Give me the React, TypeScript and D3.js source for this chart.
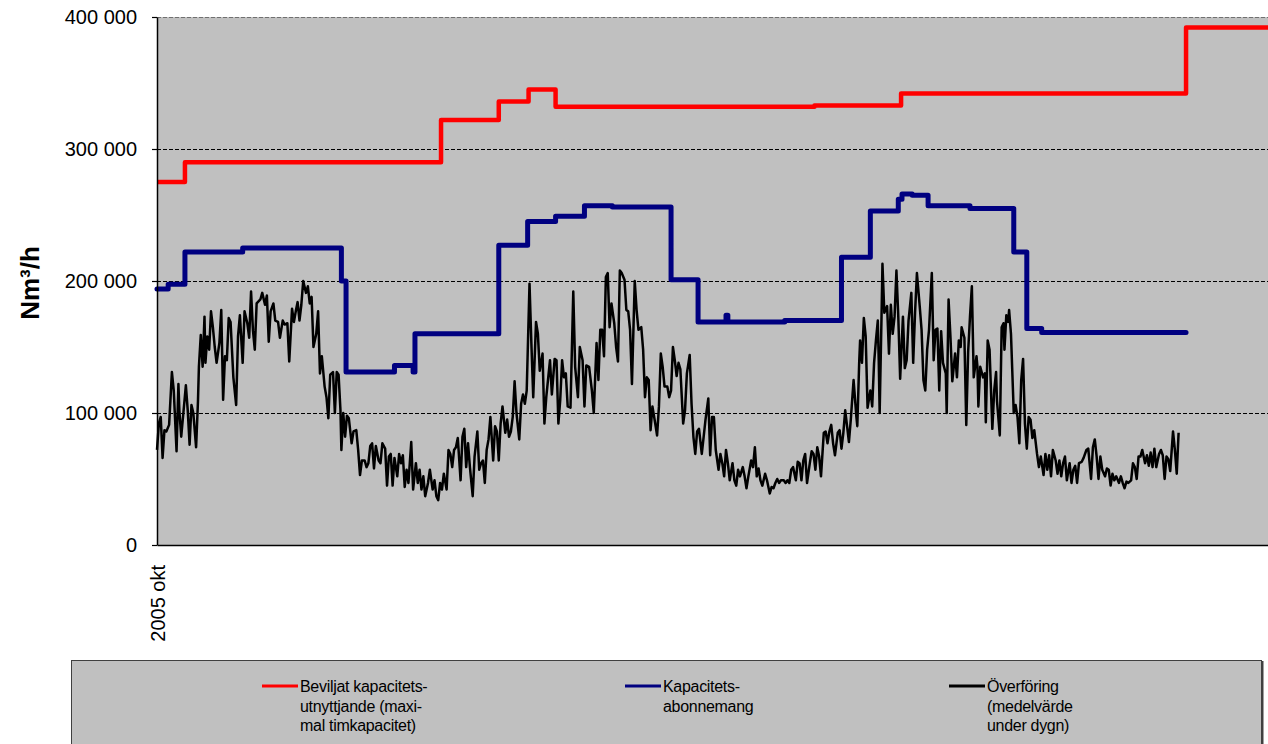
import { useEffect, useRef } from "react";
import * as d3 from "d3";

// dag räknad från 2005-10-01, värde i Nm³/h
const beviljat: [number, number][] = [
  [0, 275000], [30, 290000], [305, 322000], [367, 336000], [399, 345000],
  [428, 332000], [706, 333000], [799, 342000], [1105, 392000], [1193, 392000],
];

const abonnemang: [number, number][] = [
  [0, 194000], [12, 197500], [30, 222000], [92, 225000], [198, 200000],
  [203, 131000], [255, 136000], [275, 131000], [277, 160000], [367, 227000],
  [398, 245000], [428, 249000], [459, 257000], [489, 256000], [552, 201000],
  [581, 169000], [611, 174000], [613, 169000], [674, 170000], [735, 218000],
  [766, 253000], [796, 262000], [800, 266000], [811, 265000], [828, 257000],
  [873, 255000], [920, 222000], [934, 164000], [950, 161000], [1105, 161000],
];

// dygnsmedel, tusen Nm³/h
const overforing: [number, number][] = [
  [0,72],[2,92],[4,97],[6,66],[8,87],[10,86],[13,91],[16,131],[18,117],[21,71],[23,122],[24,102],[26,82],[31,121],[33,102],[35,76],[37,106],[39,100],[42,74],[44,109],[45,135],[47,159],[49,135],[51,173],[52,138],[54,158],[56,148],[58,177],[60,165],[62,150],[64,138],[67,153],[69,178],[71,110],[73,143],[75,140],[77,172],[79,169],[82,127],[85,106],[87,158],[89,174],[92,138],[94,177],[97,168],[99,157],[101,192],[103,163],[105,148],[107,183],[111,186],[113,191],[116,182],[118,189],[120,154],[122,177],[125,183],[127,170],[130,169],[132,157],[135,170],[137,167],[140,168],[142,139],[145,179],[147,169],[149,177],[151,184],[153,170],[155,182],[157,200],[160,191],[162,196],[164,183],[166,188],[168,150],[171,160],[173,177],[175,130],[177,143],[180,120],[182,112],[184,96],[186,129],[189,131],[191,100],[193,131],[195,129],[197,102],[198,72],[200,100],[202,82],[204,98],[206,96],[209,77],[211,86],[214,87],[216,72],[218,53],[220,64],[223,64],[225,59],[227,62],[229,75],[231,77],[233,58],[235,75],[238,64],[240,62],[242,77],[245,73],[247,45],[249,67],[251,69],[253,45],[255,66],[258,52],[260,69],[262,62],[264,68],[266,44],[268,57],[270,47],[273,78],[275,42],
  [278,62],[280,47],[282,57],[284,42],[286,52],[288,37],[291,47],[293,57],[296,42],[298,49],[300,37],[302,34],[304,47],[306,42],[308,54],[311,42],[313,72],[315,69],[317,59],[319,72],[321,74],[323,81],[326,49],[328,82],[330,88],[332,59],[334,77],[336,59],[339,37],[341,67],[344,86],[346,57],[348,62],[350,64],[352,47],[354,72],[356,80],[358,97],[361,64],[363,90],[365,86],[367,64],[369,92],[371,105],[374,85],[376,95],[378,82],[380,86],[382,97],[384,124],[386,100],[389,80],[391,107],[393,114],[395,107],[397,117],[400,198],[402,153],[404,112],[407,169],[409,160],[411,132],[414,145],[416,92],[418,112],[420,126],[422,140],[424,114],[427,141],[429,140],[431,92],[433,110],[435,140],[437,127],[439,130],[441,105],[444,104],[447,192],[449,135],[452,112],[454,150],[457,140],[459,105],[461,136],[464,135],[467,117],[469,100],[472,153],[474,125],[476,163],[478,163],[480,143],[482,203],[484,206],[486,165],[488,183],[491,168],[493,150],[495,139],[497,208],[499,206],[502,201],[504,178],[506,177],[508,163],[510,122],[513,200],[515,178],[517,163],[520,165],[522,148],[524,112],[526,127],[528,125],[530,87],[532,105],[535,92],[537,83],[539,105],[541,145],[543,135],[545,120],[548,120],[550,112],[552,117],[554,150],
  [556,140],[558,128],[560,138],[562,133],[565,92],[567,102],[569,130],[572,144],[574,107],[576,82],[578,69],[580,86],[582,88],[585,69],[587,82],[589,95],[592,111],[594,68],[596,97],[598,97],[600,72],[603,57],[605,69],[607,62],[609,52],[611,72],[613,62],[615,49],[618,62],[620,49],[622,45],[624,57],[626,52],[629,59],[631,52],[633,43],[635,52],[638,64],[640,59],[642,74],[644,52],[646,58],[648,49],[650,45],[653,54],[655,49],[658,39],[660,44],[662,43],[664,47],[666,50],[668,47],[670,49],[673,49],[675,47],[677,49],[679,47],[681,57],[683,59],[686,49],[688,63],[690,62],[692,49],[694,64],[696,69],[698,47],[701,62],[703,71],[705,69],[707,57],[709,74],[711,67],[713,52],[716,85],[718,86],[720,77],[722,86],[724,91],[726,77],[728,68],[731,85],[733,87],[735,73],[737,85],[739,102],[741,90],[743,78],[745,95],[746,105],[748,125],[751,97],[752,90],[754,138],[755,155],[757,138],[759,172],[761,158],[763,104],[766,117],[768,105],[770,138],[772,155],[774,170],[775,140],[776,100],[778,173],[779,213],[781,176],[784,181],[786,145],[788,182],[790,160],[792,173],[794,208],[796,173],[798,126],[801,173],[803,134],[805,140],[807,170],[810,191],[812,138],[814,176],[816,206],[819,181],[821,163],[823,125],[825,117],[827,148],[829,163],[832,206],[834,140],
  [836,163],[838,164],[840,117],[842,162],[844,138],[847,130],[848,100],[850,186],[852,158],[854,124],[857,145],[859,127],[861,155],[863,150],[864,165],[867,157],[869,91],[871,146],[873,173],[875,196],[877,127],[880,143],[881,135],[882,105],[884,135],[887,127],[889,130],[890,93],[892,155],[894,148],[897,88],[899,117],[901,131],[902,109],[905,83],[907,165],[909,168],[910,148],[912,174],[914,169],[915,178],[917,160],[920,100],[922,106],[924,97],[926,77],[928,125],[930,141],[932,92],[934,73],[936,97],[938,95],[940,81],[942,87],[945,69],[947,59],[949,67],[952,53],[954,69],[956,57],[958,68],[960,52],[962,72],[965,64],[967,54],[969,64],[971,52],[973,62],[975,67],[977,49],[980,62],[982,47],[984,57],[986,60],[988,47],[990,62],[993,63],[995,66],[998,72],[1000,73],[1003,50],[1005,74],[1007,80],[1009,67],[1011,50],[1013,67],[1015,57],[1018,52],[1020,58],[1022,57],[1024,45],[1026,54],[1028,49],[1030,52],[1033,47],[1035,52],[1037,47],[1039,43],[1041,48],[1043,47],[1046,49],[1048,62],[1050,59],[1052,50],[1054,67],[1056,67],[1058,72],[1061,62],[1063,68],[1065,60],[1067,70],[1069,59],[1071,73],[1073,59],[1076,69],[1078,72],[1080,68],[1082,50],[1084,67],[1086,65],[1088,56],[1091,86],[1093,72],[1095,54],[1097,85],
];

const xDomain = [0, 1193];
const yTicks = [0, 100000, 200000, 300000, 400000];
const xTickDays = [0];
const xTickLabels = ["2005 okt"];
const yLabel = "Nm³/h";

const legendLabels = [
  ["Beviljat kapacitets-", "utnyttjande (maxi-", "mal timkapacitet)"],
  ["Kapacitets-", "abonnemang"],
  ["Överföring", "(medelvärde", "under dygn)"],
];

const W = 1268;
const H = 744;
const FONT = "'Liberation Sans', Arial, sans-serif";

export default function App() {
  const svgRef = useRef<SVGSVGElement>(null);

  useEffect(() => {
    if (!svgRef.current) return;
    const svg = d3.select(svgRef.current);
    svg.selectAll("*").remove();

    const left = 157, right = W, top = 17, bottom = 545;

    const x = d3.scaleLinear().domain(xDomain).range([left, right]);
    const y = d3.scaleLinear().domain([0, 400000]).range([bottom, top]);

    // plot area
    svg.append("rect")
      .attr("x", left).attr("y", top)
      .attr("width", right - left).attr("height", bottom - top)
      .attr("fill", "#c0c0c0");

    // gridlines
    svg.append("g")
      .selectAll("line")
      .data(yTicks.filter((d) => d > 0))
      .join("line")
      .attr("x1", left).attr("x2", right)
      .attr("y1", (d) => Math.round(y(d)) + 0.5)
      .attr("y2", (d) => Math.round(y(d)) + 0.5)
      .attr("stroke", (d) => (d === 400000 ? "#707070" : "#000"))
      .attr("stroke-width", 1)
      .attr("stroke-dasharray", "4,2");

    const stepLine = d3.line<[number, number]>()
      .x((d) => x(d[0]))
      .y((d) => y(d[1]))
      .curve(d3.curveStepAfter);

    const dayLine = d3.line<[number, number]>()
      .x((d) => x(d[0]))
      .y((d) => y(d[1] * 1000));

    svg.append("path")
      .datum(beviljat)
      .attr("fill", "none")
      .attr("stroke", "#ff0000")
      .attr("stroke-width", 4.5)
      .attr("stroke-linejoin", "round")
      .attr("d", stepLine);

    svg.append("path")
      .datum(abonnemang)
      .attr("fill", "none")
      .attr("stroke", "#000080")
      .attr("stroke-width", 5)
      .attr("stroke-linejoin", "round")
      .attr("stroke-linecap", "round")
      .attr("d", stepLine);

    svg.append("path")
      .datum(overforing)
      .attr("fill", "none")
      .attr("stroke", "#000")
      .attr("stroke-width", 2.5)
      .attr("stroke-linejoin", "round")
      .attr("d", dayLine);

    // axes
    const sv = d3.formatLocale({ decimal: ",", thousands: " ", grouping: [3], currency: ["", " kr"] });
    const fmt = sv.format(",");

    const yAxis = svg.append("g")
      .attr("transform", `translate(${left},0)`)
      .call(
        d3.axisLeft(y)
          .tickValues(yTicks)
          .tickSize(5)
          .tickSizeOuter(0)
          .tickPadding(15)
          .tickFormat((d) => fmt(d as number))
      );
    yAxis.select(".domain").attr("stroke", "#000").attr("stroke-width", 1.5);
    yAxis.selectAll(".tick line").attr("stroke", "#000").attr("stroke-width", 1.2);
    yAxis.selectAll("text")
      .attr("font-family", FONT)
      .attr("font-size", 20)
      .attr("fill", "#000");

    const xAxis = svg.append("g")
      .attr("transform", `translate(0,${bottom})`)
      .call(
        d3.axisBottom(x)
          .tickValues(xTickDays)
          .tickSize(0)
          .tickSizeOuter(0)
          .tickFormat((_, i) => xTickLabels[i])
      );
    xAxis.select(".domain").attr("stroke", "#000").attr("stroke-width", 1.5);
    xAxis.selectAll("text")
      .attr("font-family", FONT)
      .attr("font-size", 20)
      .attr("fill", "#000")
      .attr("transform", "rotate(-90)")
      .attr("text-anchor", "end")
      .attr("x", -20)
      .attr("y", 0)
      .attr("dy", "0.35em");

    // y label
    svg.append("text")
      .attr("transform", "translate(30,283) rotate(-90)")
      .attr("text-anchor", "middle")
      .attr("dominant-baseline", "central")
      .attr("font-family", FONT)
      .attr("font-weight", "bold")
      .attr("font-size", 26)
      .text(yLabel);

    // legend
    svg.append("rect")
      .attr("x", 71.5).attr("y", 660.5)
      .attr("width", 1190).attr("height", 120)
      .attr("fill", "#c0c0c0")
      .attr("stroke", "#404040")
      .attr("stroke-width", 1);
    svg.append("line")
      .attr("x1", 1262.5).attr("x2", 1262.5)
      .attr("y1", 661).attr("y2", H)
      .attr("stroke", "#404040").attr("stroke-width", 2);

    const legendColors = ["#ff0000", "#000080", "#000"];
    const legendX = [262, 625, 949];
    const lg = svg.append("g")
      .selectAll("g")
      .data(legendLabels)
      .join("g")
      .attr("transform", (_, i) => `translate(${legendX[i]},686)`);
    lg.append("line")
      .attr("x1", 0).attr("x2", 36)
      .attr("stroke", (_, i) => legendColors[i])
      .attr("stroke-width", 3);
    lg.append("text")
      .attr("font-family", FONT)
      .attr("font-size", 16)
      .attr("letter-spacing", "-0.3px")
      .attr("fill", "#000")
      .selectAll("tspan")
      .data((d) => d)
      .join("tspan")
      .attr("x", 38)
      .attr("y", (_, j) => 6 + j * 19.5)
      .text((d) => d);
  }, []);

  return (
    <svg
      ref={svgRef}
      width={W}
      height={H}
      style={{ position: "absolute", left: 0, top: 0, background: "#fff" }}
    />
  );
}
